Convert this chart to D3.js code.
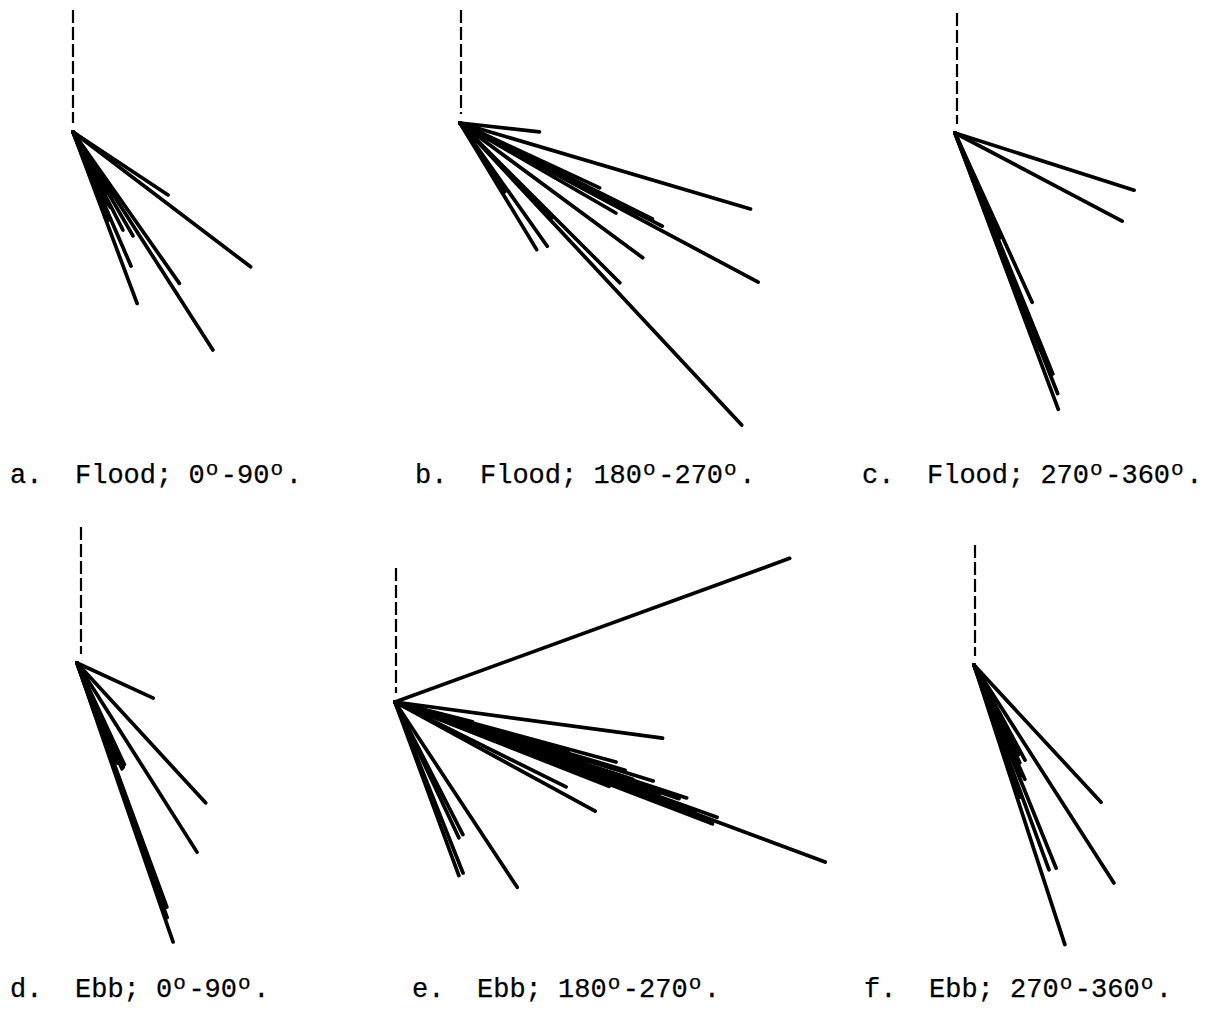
<!DOCTYPE html>
<html>
<head>
<meta charset="utf-8">
<script src="https://cdn.jsdelivr.net/npm/d3@7"></script>
<style>
  html, body { margin: 0; padding: 0; background: #fff; }
  svg { display: block; }
</style>
</head>
<body>
<div id="chart"></div>
<script>
// ---------------- DATA ----------------
// Panel identifiers and caption parts
const panelLetters = ["a.", "b.", "c.", "d.", "e.", "f."];
const tideTypes    = ["Flood", "Flood", "Flood", "Ebb", "Ebb", "Ebb"];
const rangeStarts  = ["0", "180", "270", "0", "180", "270"];
const rangeEnds    = ["90", "270", "360", "90", "270", "360"];

// Current vectors: direction (degrees clockwise from north) and magnitude
const dirA   = [123.5, 127.2, 147.3, 144.9, 159.5, 156.6, 153.0, 153.7, 155.0, 158.0, 150.0, 152.0, 149.0];
const speedA = [114, 223, 259, 185, 183, 146, 110, 84, 80, 95, 120, 70, 75];

const dirB   = [96.4, 106.5, 114.9, 117.0, 118.1, 126.4, 135.0, 137.0, 148.8, 144.7, 115.9, 135.9, 116.5, 118.0, 120.0, 146.9];
const speedB = [80, 303, 154, 227, 338, 227, 226, 413, 148, 151, 119, 132, 215, 200, 180, 82];

const dirC   = [107.7, 117.8, 155.5, 157.9, 159.5, 156.8, 158.6, 158.5];
const speedC = [188, 189, 186, 260, 295, 114, 233, 280];

const dirD   = [114.7, 137.4, 147.6, 161.0, 159.8, 156.1, 155.0, 157.0, 158.0, 160.0, 160.5];
const speedD = [84, 190, 224, 295, 260, 114, 112, 115, 108, 249, 270];

const dirE   = [70.0, 97.7, 105.2, 107.0, 108.2, 109.7, 110.4, 116.4, 118.6, 152.9, 154.8, 158.3, 159.8, 146.6, 108.0, 109.0, 110.0, 107.5, 104.4, 106.0, 111.0, 106.5, 108.8, 109.5, 111.5];
const speedE = [420, 270, 229, 270, 307, 342, 459, 191, 228, 149, 150, 184, 185, 222, 250, 280, 320, 200, 80, 180, 340, 240, 300, 260, 230];

const dirF   = [137.2, 147.3, 162.0, 158.0, 159.9, 151.8, 154.9, 157.0, 160.8, 156.0, 153.5];
const speedF = [187, 259, 294, 219, 218, 108, 108, 120, 140, 125, 100];

const directions = [dirA, dirB, dirC, dirD, dirE, dirF];
const speeds     = [speedA, speedB, speedC, speedD, speedE, speedF];

// ---------------- LAYOUT ----------------
const W = 1214, H = 1027;
const origins   = [[73,132],[460,123],[955,133],[77,663],[395,702],[974,665]];
const dashX     = [73, 461, 957, 81, 396, 975];
const dashTops  = [10, 10, 13, 527, 568, 545];
const dashGap   = 9;
const captionX  = [10, 415, 862, 10, 412, 864];
const captionY  = [483, 483, 483, 997, 997, 997];

const speedScale = d3.scaleLinear().domain([0, 500]).range([0, 500]);
const angleScale = d3.scaleLinear().domain([0, 360]).range([0, 2 * Math.PI]);

const svg = d3.select("#chart").append("svg")
  .attr("width", W).attr("height", H)
  .attr("viewBox", `0 0 ${W} ${H}`);

const font = "'Liberation Mono', 'DejaVu Sans Mono', monospace";
const fs = 27, supFs = 21, pitch = fs * 0.6, supPad = pitch - supFs * 0.6;

panelLetters.forEach((letter, i) => {
  const [ox, oy] = origins[i];
  const g = svg.append("g").attr("class", "panel panel-" + i);

  // dashed north reference
  g.append("line")
    .attr("x1", dashX[i]).attr("y1", dashTops[i])
    .attr("x2", dashX[i]).attr("y2", oy - dashGap)
    .attr("stroke", "#000")
    .attr("stroke-width", 2.2)
    .attr("stroke-dasharray", "13,4");

  const data = directions[i].map((d, k) => ({dir: d, speed: speeds[i][k]}));

  g.selectAll("line.vec").data(data).enter().append("line")
    .attr("class", "vec")
    .attr("x1", ox).attr("y1", oy)
    .attr("x2", d => ox + speedScale(d.speed) * Math.sin(angleScale(d.dir)))
    .attr("y2", d => oy - speedScale(d.speed) * Math.cos(angleScale(d.dir)))
    .attr("stroke", "#000")
    .attr("stroke-width", 3.7)
    .attr("stroke-linecap", "round");

  // caption
  const cx = captionX[i], cy = captionY[i];
  svg.append("text")
    .attr("x", cx).attr("y", cy)
    .attr("font-family", font)
    .attr("font-size", fs)
    .attr("fill", "#000")
    .attr("stroke", "#000").attr("stroke-width", 0.25)
    .text(letter);

  const c = svg.append("text")
    .attr("x", cx + 65).attr("y", cy)
    .attr("font-family", font)
    .attr("font-size", fs)
    .attr("fill", "#000")
    .attr("stroke", "#000").attr("stroke-width", 0.25)
    .attr("xml:space", "preserve");
  c.append("tspan").text(tideTypes[i] + "; " + rangeStarts[i]);
  c.append("tspan").attr("font-size", supFs).attr("dx", 1).attr("dy", -8).text("o");
  c.append("tspan").attr("dx", supPad - 1).attr("dy", 8).text("-" + rangeEnds[i]);
  c.append("tspan").attr("font-size", supFs).attr("dx", 1).attr("dy", -8).text("o");
  c.append("tspan").attr("dx", supPad - 1).attr("dy", 8).text(".");
});
</script>
</body>
</html>
